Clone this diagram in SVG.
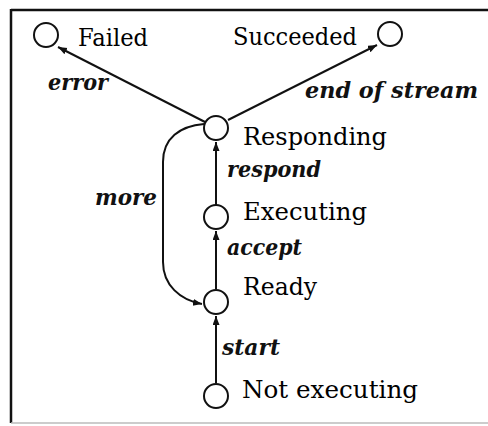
<svg xmlns="http://www.w3.org/2000/svg" width="488" height="426" viewBox="0 0 488 426">
<defs>
<style>
.st{fill:#fff;stroke:#111;stroke-width:2}
.lb{font-size:25px;fill:#000}
.ev{font-size:22px;font-style:italic;font-weight:bold;fill:#111}
.cn{fill:none;stroke:#111;stroke-width:2}
</style>
<marker id="ah" markerUnits="userSpaceOnUse" markerWidth="10" markerHeight="8" refX="9" refY="3.5" orient="auto">
<path d="M0,0 L9,3.5 L0,7 z" fill="#111"/>
</marker>
</defs>
<rect width="488" height="426" fill="#fff"/>
<g id="frame">
<line x1="11" y1="10" x2="488" y2="10" stroke="#111" stroke-width="2.5"/>
<line x1="11" y1="9" x2="11" y2="423" stroke="#111" stroke-width="2.5"/>
<line x1="11" y1="423" x2="488" y2="423" stroke="#bbb" stroke-width="1.5"/>
</g>
<g id="connectors" font-family="DejaVu Serif, serif">
<path class="cn" d="M205,122 L58,47" marker-end="url(#ah)"/>
<path class="cn" d="M228,120 L377,45" marker-end="url(#ah)"/>
<path class="cn" d="M216,205 L216,142" marker-end="url(#ah)"/>
<path class="cn" d="M216,289 L216,231" marker-end="url(#ah)"/>
<path class="cn" d="M216,383 L216,316" marker-end="url(#ah)"/>
<path class="cn" d="M204,124 C180,126 163,138 163,162 L163,262 C163,285 180,300 202,304" marker-end="url(#ah)"/>
<text class="ev" x="48" y="90" textLength="60" lengthAdjust="spacingAndGlyphs">error</text>
<text class="ev" x="305" y="98" textLength="173" lengthAdjust="spacingAndGlyphs">end of stream</text>
<text class="ev" x="227" y="177" textLength="94" lengthAdjust="spacingAndGlyphs">respond</text>
<text class="ev" x="95" y="205" textLength="62" lengthAdjust="spacingAndGlyphs">more</text>
<text class="ev" x="227" y="255" textLength="75" lengthAdjust="spacingAndGlyphs">accept</text>
<text class="ev" x="222" y="355" textLength="58" lengthAdjust="spacingAndGlyphs">start</text>
</g>
<g id="nodes" font-family="DejaVu Serif, serif">
<g id="failed">
<circle class="st" cx="46" cy="35" r="12"/>
<text class="lb" x="78" y="46" textLength="70" lengthAdjust="spacingAndGlyphs">Failed</text>
</g>
<g id="succeeded">
<circle class="st" cx="390" cy="34" r="12"/>
<text class="lb" x="233" y="45" textLength="124" lengthAdjust="spacingAndGlyphs">Succeeded</text>
</g>
<g id="responding">
<circle class="st" cx="216" cy="128" r="12"/>
<text class="lb" x="243" y="145" textLength="144" lengthAdjust="spacingAndGlyphs">Responding</text>
</g>
<g id="executing">
<circle class="st" cx="216" cy="217" r="12"/>
<text class="lb" x="243" y="220" textLength="124" lengthAdjust="spacingAndGlyphs">Executing</text>
</g>
<g id="ready">
<circle class="st" cx="216" cy="302" r="12"/>
<text class="lb" x="243" y="295" textLength="74" lengthAdjust="spacingAndGlyphs">Ready</text>
</g>
<g id="not-executing">
<circle class="st" cx="216" cy="396" r="12"/>
<text class="lb" x="242" y="398" textLength="176" lengthAdjust="spacingAndGlyphs">Not executing</text>
</g>
</g>
</svg>
